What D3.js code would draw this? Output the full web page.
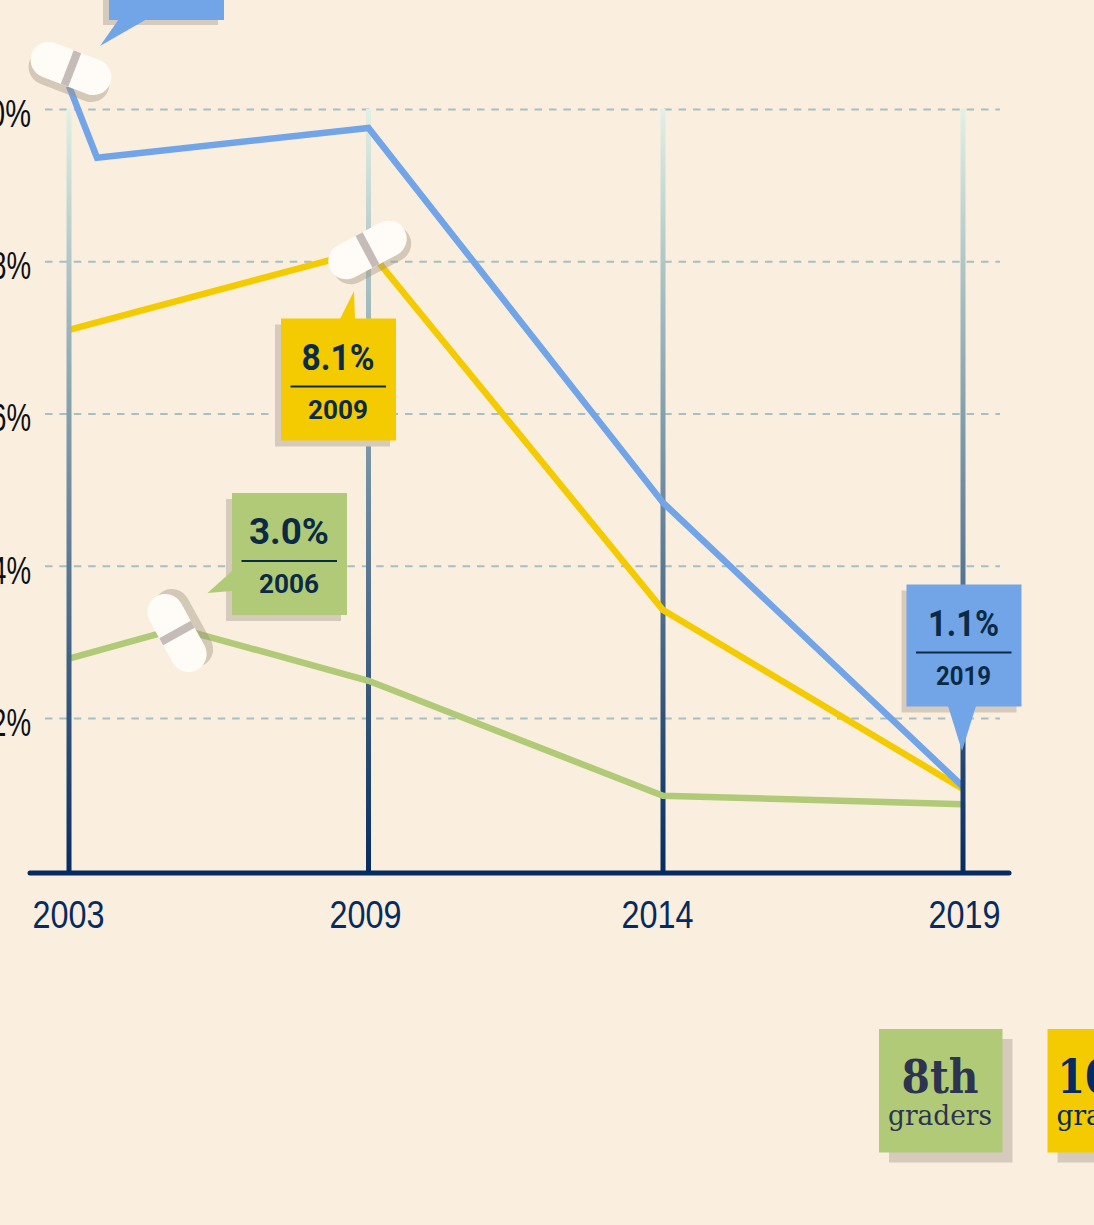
<!DOCTYPE html>
<html>
<head>
<meta charset="utf-8">
<script src="https://cdn.jsdelivr.net/npm/d3@7"></script>
<style>
html, body { margin: 0; padding: 0; background: #faefdf; overflow: hidden; }
svg { display: block; font-family: Roboto, sans-serif; }
</style>
</head>
<body>
<script>
const WIDTH = 1094;
const HEIGHT = 1225;

var yearTicks = [2003, 2009, 2014, 2019];
var percentTicks = [2, 4, 6, 8, 10];

var years8th = [2003, 2006, 2009, 2014, 2019];
var values8th = [2.78, 3.18, 2.49, 0.98, 0.87];
var years10th = [2003, 2009, 2014, 2019];
var values10th = [7.1, 8.15, 3.42, 1.07];
var years12th = [2003, 2004, 2009, 2014, 2019];
var values12th = [10.3, 9.36, 9.75, 4.83, 1.1];

var legendNames = ['8th', '10th'];

var GREEN = '#b0ca78', YELLOW = '#f3cb00', BLUE = '#72a5e8', NAVY = '#052b60', INK = '#0b2b45';
var SHADOW = '#d5cabb';

var svg = d3.select('body').append('svg')
    .attr('width', WIDTH)
    .attr('height', HEIGHT);

// the years are not evenly spaced on the original axis
var x = d3.scaleLinear()
    .domain([2003, 2004, 2006, 2009, 2014, 2019])
    .range([69, 97, 178, 368.5, 663, 963]);
var y = d3.scaleLinear().domain([0, 10]).range([870.4, 109]);

var grad = svg.append('defs').append('linearGradient')
    .attr('id', 'fade')
    .attr('gradientUnits', 'userSpaceOnUse')
    .attr('x1', 0).attr('x2', 0)
    .attr('y1', y(10)).attr('y2', 873);
grad.append('stop').attr('offset', 0).attr('stop-color', '#e2f0e5');
grad.append('stop').attr('offset', 0.25).attr('stop-color', '#a3bcc0');
grad.append('stop').attr('offset', 1).attr('stop-color', NAVY);

// dashed grid and left labels
var yAxis = svg.append('g')
    .attr('transform', 'translate(45,0)')
    .call(d3.axisLeft(y).tickValues(percentTicks).tickSize(-955).tickPadding(14).tickFormat(function(d) { return d + '%'; }));
yAxis.select('.domain').remove();
yAxis.selectAll('line')
    .attr('stroke', '#a5bfc4')
    .attr('stroke-width', 2)
    .attr('stroke-dasharray', '7.5 6.9');
yAxis.selectAll('text')
    .attr('font-size', 38)
    .attr('fill', '#0d0f14')
    .attr('y', 5)
    .attr('dy', '0.32em')
    .attr('textLength', function(d) { return d === 10 ? 58 : 40; })
    .attr('lengthAdjust', 'spacingAndGlyphs');

function drawVerticals(list) {
    svg.append('g').selectAll('line')
        .data(list)
        .enter()
        .append('line')
        .attr('x1', function(d) { return x(d); })
        .attr('x2', function(d) { return x(d) + 0.01; })
        .attr('y1', y(10))
        .attr('y2', 873)
        .attr('stroke', 'url(#fade)')
        .attr('stroke-width', 5);
}

drawVerticals([2009, 2014]);

var line = d3.line()
    .x(function(d) { return x(d[0]); })
    .y(function(d) { return y(d[1]); })
    .curve(d3.curveLinear);

var seriesList = [
    {years: years8th, values: values8th, color: GREEN},
    {years: years10th, values: values10th, color: YELLOW},
    {years: years12th, values: values12th, color: BLUE}
];

svg.append('g').selectAll('path')
    .data(seriesList)
    .enter()
    .append('path')
    .attr('d', function(s) { return line(d3.zip(s.years, s.values)); })
    .attr('fill', 'none')
    .attr('stroke', function(s) { return s.color; })
    .attr('stroke-width', 6.5)
    .attr('stroke-linejoin', 'miter');

drawVerticals([2003, 2019]);

// baseline and year labels
svg.append('line')
    .attr('x1', 30).attr('x2', 1009)
    .attr('y1', 873).attr('y2', 873)
    .attr('stroke', NAVY)
    .attr('stroke-width', 5)
    .attr('stroke-linecap', 'round');

var labelShift = {2003: -1, 2009: -3.5, 2014: -6, 2019: 1};
var xAxis = svg.append('g')
    .attr('transform', 'translate(0,873)')
    .call(d3.axisBottom(x).tickValues(yearTicks).tickSize(0).tickPadding(28).tickFormat(d3.format('d')));
xAxis.select('.domain').remove();
xAxis.selectAll('text')
    .attr('font-size', 38)
    .attr('fill', NAVY)
    .attr('dx', function(d) { return labelShift[d]; })
    .attr('textLength', 72)
    .attr('lengthAdjust', 'spacingAndGlyphs');

// pills marking the peaks
function pill(cx, cy, angle, sx, sy) {
    var g = svg.append('g').attr('transform', 'translate(' + cx + ',' + cy + ')');
    g.append('rect')
        .attr('x', -42).attr('y', -18).attr('width', 84).attr('height', 36).attr('rx', 18)
        .attr('transform', 'translate(' + sx + ',' + sy + ') rotate(' + angle + ')')
        .attr('fill', '#9f927f')
        .attr('opacity', 0.42);
    var top = g.append('g').attr('transform', 'rotate(' + angle + ')');
    top.append('rect')
        .attr('x', -42).attr('y', -18).attr('width', 84).attr('height', 36).attr('rx', 18)
        .attr('fill', '#fffcf8');
    top.append('rect')
        .attr('x', -4).attr('y', -18).attr('width', 8).attr('height', 36)
        .attr('fill', '#c5bcb8');
}

pill(71, 68.5, 21, -2, 7);
pill(367.5, 250, -28, 4.5, 5);
pill(177, 633, 61, 6.5, -5);

// callout boxes
function callout(bx, by, color, pointer, big, bigWidth, small, smallWidth, sx, sy) {
    var g = svg.append('g');
    g.append('rect')
        .attr('x', bx + sx).attr('y', by + sy).attr('width', 115).attr('height', 122)
        .attr('fill', SHADOW);
    g.append('polygon')
        .attr('points', pointer.map(function(p) { return p.join(','); }).join(' '))
        .attr('fill', color);
    g.append('rect')
        .attr('x', bx).attr('y', by).attr('width', 115).attr('height', 122)
        .attr('fill', color);
    if (!big) return;
    g.append('text')
        .attr('x', bx + 57).attr('y', by + 51)
        .attr('text-anchor', 'middle')
        .attr('font-size', 37).attr('font-weight', 700)
        .attr('fill', INK)
        .attr('textLength', bigWidth)
        .attr('lengthAdjust', 'spacingAndGlyphs')
        .text(big);
    g.append('line')
        .attr('x1', bx + 9.5).attr('x2', bx + 105)
        .attr('y1', by + 68).attr('y2', by + 68)
        .attr('stroke', INK).attr('stroke-width', 2);
    g.append('text')
        .attr('x', bx + 57).attr('y', by + 100)
        .attr('text-anchor', 'middle')
        .attr('font-size', 26).attr('font-weight', 700)
        .attr('fill', INK)
        .attr('textLength', smallWidth)
        .attr('lengthAdjust', 'spacingAndGlyphs')
        .text(small);
}

callout(109, -102, BLUE, [[119, 19], [147, 19], [100, 46]], null, 0, null, 0, -6, 5);
callout(281, 318.5, YELLOW, [[340, 319], [355, 319], [354, 291]], '8.1%', 73, '2009', 60, -6, 6);
callout(232, 493, GREEN, [[232, 571], [232, 591], [207.5, 593]], '3.0%', 80, '2006', 60, -6, 6);
callout(906.5, 584.5, BLUE, [[948, 706], [976, 706], [962, 751]], '1.1%', 71, '2019', 55, -5, 6);

// legend, the third box falls outside the page
var legend = svg.append('g').selectAll('g')
    .data(legendNames)
    .enter()
    .append('g')
    .attr('transform', function(d, i) { return 'translate(' + (879 + i * 168.5) + ',1029)'; });
legend.append('rect')
    .attr('x', 10).attr('y', 10).attr('width', 123.5).attr('height', 123.5)
    .attr('fill', SHADOW);
legend.append('rect')
    .attr('width', 123.5).attr('height', 123.5)
    .attr('fill', function(d, i) { return i === 0 ? GREEN : YELLOW; });
legend.append('text')
    .attr('x', 61).attr('y', 64)
    .attr('text-anchor', 'middle')
    .style('font-family', '"DejaVu Serif", serif')
    .attr('font-weight', 700)
    .attr('font-size', 46)
    .attr('fill', function(d, i) { return i === 0 ? '#2d3450' : NAVY; })
    .attr('textLength', function(d, i) { return i === 0 ? 77 : 102; })
    .attr('lengthAdjust', 'spacingAndGlyphs')
    .text(function(d) { return d; });
legend.append('text')
    .attr('x', 61).attr('y', 96)
    .attr('text-anchor', 'middle')
    .style('font-family', '"DejaVu Serif", serif')
    .attr('font-size', 28)
    .attr('fill', function(d, i) { return i === 0 ? '#2d3450' : NAVY; })
    .attr('textLength', 104)
    .attr('lengthAdjust', 'spacingAndGlyphs')
    .text('graders');
</script>
</body>
</html>
